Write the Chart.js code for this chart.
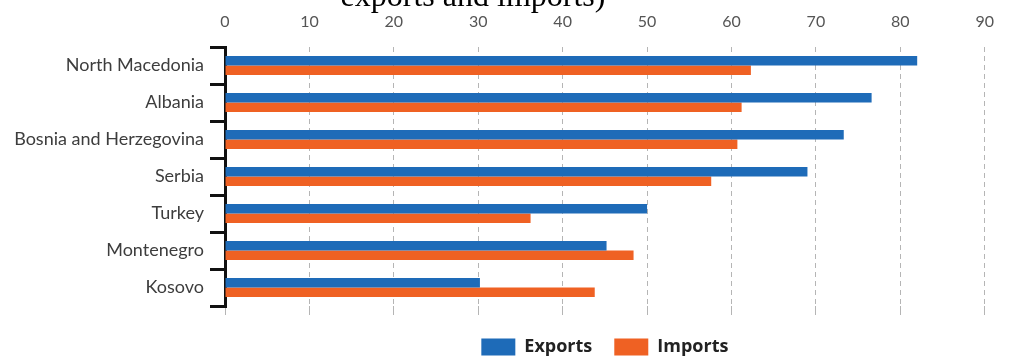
<!DOCTYPE html>
<html>
<head>
<meta charset="utf-8">
<script src="https://cdn.jsdelivr.net/npm/chart.js@4/dist/chart.umd.min.js"></script>
<style>
  html, body { margin: 0; padding: 0; background: #fff; overflow: hidden; }
  #wrap { position: relative; width: 1010px; height: 356px; overflow: hidden; }
  #title {
    position: absolute; left: 0; top: -21px; width: 946px;
    text-align: center; font: 32px/32px "Liberation Serif", serif; color: #000;
  }
</style>
</head>
<body>
<div id="wrap">
  <div id="title">exports and imports)</div>
  <canvas id="chart1" width="1010" height="366"></canvas>
</div>
<script>
const countries = ["North Macedonia", "Albania", "Bosnia and Herzegovina", "Serbia", "Turkey", "Montenegro", "Kosovo"];
const exportsShare = [82.0, 76.6, 73.3, 69.0, 50.0, 45.2, 30.2];
const importsShare = [62.3, 61.2, 60.7, 57.6, 36.2, 48.4, 43.8];
const xTicks = [0, 10, 20, 30, 40, 50, 60, 70, 80, 90];

const chart1 = document.getElementById("chart1");

const barChart = new Chart(chart1, {
    type: "bar",
    data: {
        labels: countries,
        datasets: [{
            label: "Exports",
            data: exportsShare,
            backgroundColor: "#1e6bb8",
            categoryPercentage: 0.52,
            barPercentage: 1.0
        }, {
            label: "Imports",
            data: importsShare,
            backgroundColor: "#ef6123",
            categoryPercentage: 0.52,
            barPercentage: 1.0
        }]
    },
    options: {
        indexAxis: "y",
        responsive: false,
        animation: false,
        layout: { padding: { top: 12, right: 12, left: 0, bottom: 0 } },
        plugins: {
            tooltip: { enabled: false },
            legend: {
                position: "bottom",
                fullSize: false,
                labels: {
                    boxWidth: 34,
                    boxHeight: 17,
                    padding: 22,
                    color: "#222",
                    font: { family: "'Open Sans', sans-serif", size: 18, weight: "bold" }
                }
            }
        },
        scales: {
            x: {
                position: "top",
                min: xTicks[0],
                max: xTicks[xTicks.length - 1],
                afterBuildTicks: s => { s.ticks = xTicks.map(v => ({ value: v })); },
                afterFit: s => { s.height = 35; },
                ticks: {
                    padding: 16,
                    color: "#555",
                    font: { family: "Lato, sans-serif", size: 16 }
                },
                grid: { color: "#b5b5b5", lineWidth: 1, drawTicks: false },
                border: { display: false, dash: [5, 4] }
            },
            x2: {
                type: "linear",
                position: "bottom",
                min: xTicks[0],
                max: xTicks[xTicks.length - 1],
                afterBuildTicks: s => { s.ticks = xTicks.map(v => ({ value: v })); },
                ticks: { display: false },
                grid: { color: "#b5b5b5", lineWidth: 1, drawOnChartArea: false, tickLength: 9 },
                border: { display: false, dash: [5, 4] },
                afterFit: s => { s.height = 10; }
            },
            y: {
                afterFit: s => { s.width = 225; },
                ticks: {
                    padding: 6,
                    color: "#3d3d3d",
                    font: { family: "Lato, sans-serif", size: 18 }
                },
                grid: { color: "#111", lineWidth: 3, drawOnChartArea: false, tickLength: 15, offset: true },
                border: { color: "#111", width: 3 }
            }
        }
    }
});
</script>
</body>
</html>
